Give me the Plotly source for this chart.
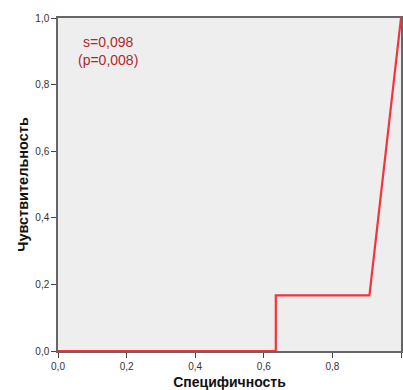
import plotly.graph_objects as go

specificity = [0.0, 0.635, 0.635, 0.908, 1.0]
sensitivity = [0.0, 0.0, 0.167, 0.167, 1.0]
tick_vals = [0.0, 0.2, 0.4, 0.6, 0.8, 1.0]
x_tick_text = ["0,0", "0,2", "0,4", "0,6", "0,8", "1,0"]
y_tick_text = ["0,0", "0,2", "0,4", "0,6", "0,8", "1,0"]
annotation_text = "s=0,098<br>(p=0,008)"

fig = go.Figure()
fig.add_trace(go.Scatter(
    x=specificity, y=sensitivity, mode="lines",
    line=dict(color="#f5333a", width=2.2),
    showlegend=False, hoverinfo="skip",
))

axis_common = dict(
    range=[0, 1], showgrid=False, zeroline=False,
    ticks="outside", ticklen=5, tickwidth=1, tickcolor="#444",
    showline=True, linecolor="#666", linewidth=1.5, mirror=True,
    tickfont=dict(family="Arial, Liberation Sans, sans-serif", size=10, color="#333"),
    tickvals=tick_vals,
)

fig.update_layout(
    width=403, height=390,
    margin=dict(l=58, r=0, t=18, b=37),
    plot_bgcolor="#eeeeee", paper_bgcolor="white",
    xaxis=dict(**axis_common, ticktext=x_tick_text,
               title=dict(text="<b>Специфичность</b>", standoff=8,
                          font=dict(family="Arial, Liberation Sans, sans-serif", size=14, color="#111"))),
    yaxis=dict(**axis_common, ticktext=y_tick_text,
               title=dict(text="<b>Чувствительность</b>", standoff=3,
                          font=dict(family="Arial, Liberation Sans, sans-serif", size=14.5, color="#111"))),
    annotations=[dict(
        x=0.145, y=0.9, xref="x", yref="y", text=annotation_text, showarrow=False,
        font=dict(family="Arial, Liberation Sans, sans-serif", size=14, color="#b0282d"),
        align="center",
    )],
)

fig.write_html("out.html")
